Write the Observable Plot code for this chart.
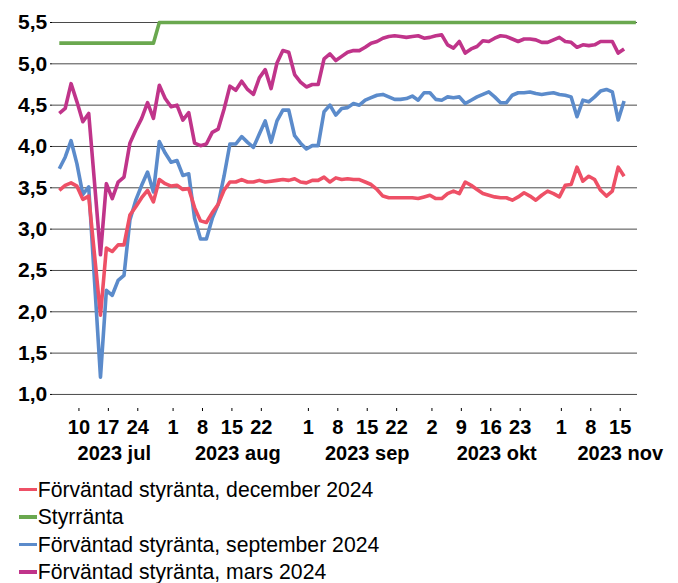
<!DOCTYPE html>
<html>
<head>
<meta charset="utf-8">
<script src="https://cdn.jsdelivr.net/npm/d3@7"></script>
<script src="https://cdn.jsdelivr.net/npm/@observablehq/plot@0.6"></script>
<style>
  html, body { margin: 0; padding: 0; background: #fff; overflow: hidden; }
  body { font-family: "Liberation Sans", Arial, sans-serif; width: 678px; height: 583px; }
  #legend { margin-top: 5.8px; }
  .item { display: flex; align-items: center; height: 27.5px; font-size: 21.2px; color: #000; white-space: nowrap; }
  .sw { width: 18px; height: 3.6px; margin-left: 18.7px; margin-right: 1px; }
</style>
</head>
<body>
<div id="chart"></div>
<div id="legend"></div>
<script>
// Business days on the category axis (the last two only carry the policy rate)
const julDays = [5,6,7,10,11,12,13,14,17,18,19,20,21,24,25,26,27,28,31];
const augDays = [1,2,3,4,7,8,9,10,11,14,15,16,17,18,21,22,23,24,25,28,29,30,31];
const sepDays = [1,4,5,6,7,8,11,12,13,14,15,18,19,20,21,22,25,26,27,28,29];
const oktDays = [2,3,4,5,6,9,10,11,12,13,16,17,18,19,20,23,24,25,26,27,30,31];
const novDays = [1,2,3,6,7,8,9,10,13,14,15,16,17,20];

// Förväntad styränta, december 2024
const dec24 = [3.47,3.53,3.56,3.52,3.36,3.40,2.68,1.96,2.77,2.73,2.81,2.81,3.17,3.27,3.38,3.47,3.33,3.60,3.55,3.52,
  3.53,3.48,3.49,3.26,3.10,3.08,3.20,3.30,3.47,3.57,3.57,3.60,3.57,3.57,3.59,3.57,3.58,3.59,3.60,3.59,
  3.61,3.57,3.56,3.59,3.59,3.63,3.57,3.62,3.60,3.61,3.60,3.60,3.57,3.54,3.48,3.40,3.38,3.38,3.38,3.38,
  3.38,3.37,3.39,3.41,3.37,3.37,3.43,3.46,3.43,3.57,3.53,3.48,3.43,3.41,3.39,3.38,3.38,3.35,3.39,3.44,
  3.40,3.35,3.41,3.46,3.43,3.39,3.53,3.54,3.75,3.58,3.64,3.60,3.47,3.40,3.46,3.75,3.64];

// Styrränta
const policy = [5.25,5.25,5.25,5.25,5.25,5.25,5.25,5.25,5.25,5.25,5.25,5.25,5.25,5.25,5.25,5.25,5.25,
  5.5,5.5,5.5,5.5,5.5,5.5,5.5,5.5,5.5,5.5,5.5,5.5,5.5,5.5,5.5,5.5,5.5,5.5,5.5,5.5,5.5,5.5,5.5,5.5,
  5.5,5.5,5.5,5.5,5.5,5.5,5.5,5.5,5.5,5.5,5.5,5.5,5.5,5.5,5.5,5.5,5.5,5.5,5.5,5.5,5.5,5.5,5.5,5.5,
  5.5,5.5,5.5,5.5,5.5,5.5,5.5,5.5,5.5,5.5,5.5,5.5,5.5,5.5,5.5,5.5,5.5,5.5,5.5,5.5,5.5,5.5,5.5,5.5,
  5.5,5.5,5.5,5.5,5.5,5.5,5.5,5.5,5.5,5.5];

// Förväntad styränta, september 2024
const sep24 = [3.73,3.87,4.07,3.79,3.42,3.51,2.36,1.21,2.26,2.20,2.38,2.44,3.11,3.35,3.53,3.69,3.45,4.06,3.92,3.81,
  3.83,3.65,3.67,3.13,2.88,2.88,3.13,3.30,3.64,4.03,4.03,4.12,4.05,3.99,4.15,4.31,4.05,4.31,4.44,4.44,
  4.13,4.04,3.97,4.01,4.01,4.42,4.50,4.38,4.46,4.47,4.52,4.50,4.56,4.59,4.62,4.63,4.60,4.57,4.57,4.58,
  4.61,4.56,4.65,4.65,4.57,4.56,4.60,4.59,4.60,4.52,4.56,4.60,4.63,4.66,4.60,4.53,4.53,4.62,4.65,4.65,
  4.66,4.64,4.63,4.64,4.65,4.63,4.62,4.60,4.36,4.56,4.54,4.60,4.67,4.69,4.66,4.32,4.55];

// Förväntad styränta, mars 2024
const mar24 = [4.40,4.46,4.76,4.54,4.30,4.40,3.55,2.69,3.55,3.37,3.57,3.63,4.04,4.20,4.34,4.53,4.34,4.74,4.58,4.48,
  4.50,4.32,4.41,4.04,4.01,4.03,4.17,4.21,4.45,4.73,4.68,4.79,4.69,4.63,4.83,4.93,4.70,5.01,5.16,5.14,
  4.87,4.78,4.72,4.75,4.75,5.06,5.12,5.04,5.09,5.14,5.16,5.16,5.20,5.25,5.27,5.31,5.33,5.34,5.33,5.32,
  5.33,5.34,5.31,5.32,5.34,5.35,5.23,5.19,5.27,5.13,5.18,5.21,5.28,5.27,5.31,5.34,5.33,5.30,5.27,5.30,
  5.30,5.29,5.26,5.26,5.29,5.32,5.27,5.26,5.20,5.23,5.22,5.23,5.27,5.27,5.27,5.13,5.18];

const yTicks = [1.0,1.5,2.0,2.5,3.0,3.5,4.0,4.5,5.0,5.5];
const tickDates = ["2023-07-10","2023-07-17","2023-07-24","2023-08-01","2023-08-08","2023-08-15","2023-08-22",
  "2023-09-01","2023-09-08","2023-09-15","2023-09-22","2023-10-02","2023-10-09","2023-10-16","2023-10-23",
  "2023-11-01","2023-11-08","2023-11-15"];
const monthLabels = ["2023 jul","2023 aug","2023 sep","2023 okt","2023 nov"];
const monthAnchors = ["2023-07-18","2023-08-16","2023-09-15","2023-10-17","2023-11-15"];

const seriesNames = ["Förväntad styränta, december 2024","Styrränta","Förväntad styränta, september 2024","Förväntad styränta, mars 2024"];
const seriesColors = ["#EE5066","#6AA84F","#5B8BCB","#C0348A"];
const seriesValues = [dec24, policy, sep24, mar24];

// build date list
const monthDays = [["2023-07", julDays],["2023-08", augDays],["2023-09", sepDays],["2023-10", oktDays],["2023-11", novDays]];
const dates = [];
for (const [m, days] of monthDays) for (const d of days) dates.push(m + "-" + String(d).padStart(2, "0"));
const idxOf = new Map(dates.map((d, i) => [d, i]));

const rows = seriesNames.flatMap((name, s) => seriesValues[s].map((v, i) => ({name, i, date: dates[i], v})));
const tickIdx = tickDates.map(d => idxOf.get(d));
const monthRows = monthLabels.map((t, k) => ({t, i: idxOf.get(monthAnchors[k])}));

const drawOrder = [2, 0, 1, 3]; // blue, red, green, magenta on top
const font = '"Liberation Sans", Arial, sans-serif';

const chart = Plot.plot({
  width: 678,
  height: 470,
  marginLeft: 52,
  marginRight: 41,
  marginTop: 22,
  marginBottom: 62,
  style: {fontFamily: font, background: "#fff", display: "block", color: "#000"},
  x: {type: "linear", domain: [-1.156, 98.28], axis: null},
  y: {domain: [0.83, 5.5], axis: null},
  marks: [
    Plot.ruleY(yTicks, {stroke: "#4a4a4a", strokeWidth: 1}),
    Plot.axisY({ticks: yTicks, tickSize: 2, tickPadding: 3.3, label: null,
      tickFormat: d => d.toFixed(1).replace(".", ","),
      fontSize: 21, fontWeight: "bold", fontFamily: font}),
    Plot.axisX({ticks: tickIdx, tickSize: 3, tickPadding: 8.5, dx: 2, label: null,
      tickFormat: i => String(Number(dates[i].slice(8))),
      fontSize: 20, fontWeight: "bold", fontFamily: font}),
    Plot.text(monthRows, {x: "i", text: "t", frameAnchor: "bottom", dy: 45, dx: 2,
      lineAnchor: "middle", textAnchor: "middle",
      fontSize: 20, fontWeight: "bold", fontFamily: font, fill: "#000"}),
    ...drawOrder.map(s => Plot.line(rows.filter(r => r.name === seriesNames[s]), {
      x: "i", y: "v", stroke: seriesColors[s], strokeWidth: 3.6,
      strokeLinecap: "butt", strokeLinejoin: "round"
    }))
  ]
});
document.getElementById("chart").appendChild(chart);

const legend = document.getElementById("legend");
seriesNames.forEach((name, s) => {
  const item = document.createElement("div");
  item.className = "item";
  const sw = document.createElement("span");
  sw.className = "sw";
  sw.style.background = seriesColors[s];
  const label = document.createElement("span");
  label.textContent = name;
  item.appendChild(sw);
  item.appendChild(label);
  legend.appendChild(item);
});
</script>
</body>
</html>
